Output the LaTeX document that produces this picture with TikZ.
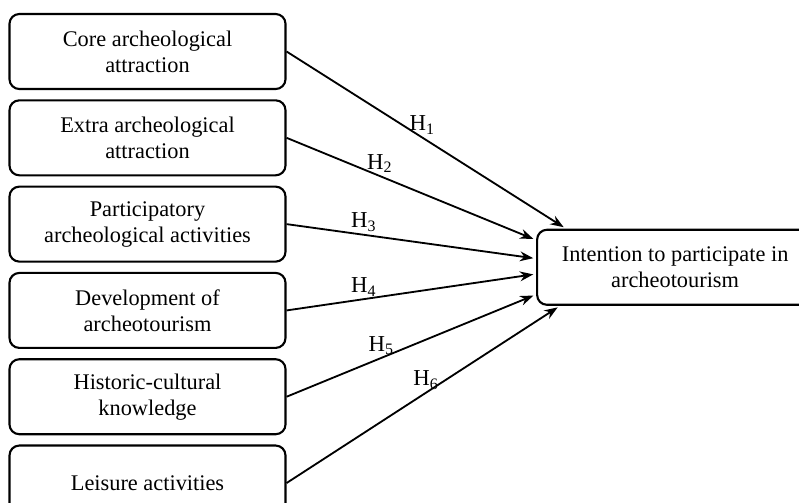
\documentclass[tikz,border=0pt]{standalone}
\usepackage{fontspec}
\setmainfont{Liberation Serif}
\usetikzlibrary{arrows.meta,positioning,calc}

\begin{document}
\begin{tikzpicture}[->,>={Stealth[length=9.5pt,width=7pt]},shorten >=2pt,node distance=0.23cm,line width=1.3pt]
  \tikzstyle{factor}=[draw,line width=1.5pt,rounded corners=7pt,minimum width=6.9cm,minimum height=1.875cm,align=center,font=\fontsize{15.9}{18.5}\selectfont]
  \tikzstyle{hyp}=[anchor=south,inner sep=1.5pt,font=\fontsize{16.2}{18}\selectfont]

  \useasboundingbox (0,0) rectangle (19.975,-12.55);

  \node[factor] (core) at (3.6875,-1.2875) {Core archeological\\attraction};
  \node[factor,below=of core] (extra) {Extra archeological\\attraction};
  \node[factor,below=of extra] (partic) {Participatory\\archeological activities};
  \node[factor,below=of partic] (devel) {Development of\\archeotourism};
  \node[factor,below=of devel] (hist) {Historic-cultural\\knowledge};
  \node[factor,below=of hist] (leis) {Leisure activities};

  \coordinate (mid) at ($(partic.south east)!0.5!(devel.north east)$);
  \node[factor,right=6.2375cm of mid] (intent) {Intention to participate in\\archeotourism};

  % arrow ends on the outcome box
  \coordinate (e1) at ($(intent.north west)+(0.75cm,0)$);
  \coordinate (e2) at ($(intent.north west)!0.147!(intent.south west)$);
  \coordinate (e3) at ($(intent.north west)!0.387!(intent.south west)$);
  \coordinate (e4) at ($(intent.north west)!0.587!(intent.south west)$);
  \coordinate (e5) at ($(intent.north west)!0.853!(intent.south west)$);
  \coordinate (e6) at ($(intent.south west)+(0.6cm,0)$);

  \draw (core.east) -- (e1) node[hyp,pos=0.485] {H\textsubscript{1}};
  \draw (extra.east) -- (e2) node[hyp,pos=0.373] {H\textsubscript{2}};
  \draw (partic.east) -- (e3) node[hyp,pos=0.309] {H\textsubscript{3}};
  \draw (devel.east) -- (e4) node[hyp,pos=0.309] {H\textsubscript{4}};
  \draw (hist.east) -- (e5) node[hyp,pos=0.379] {H\textsubscript{5}};
  \draw (leis.east) -- (e6) node[hyp,pos=0.51] {H\textsubscript{6}};
\end{tikzpicture}
\end{document}
